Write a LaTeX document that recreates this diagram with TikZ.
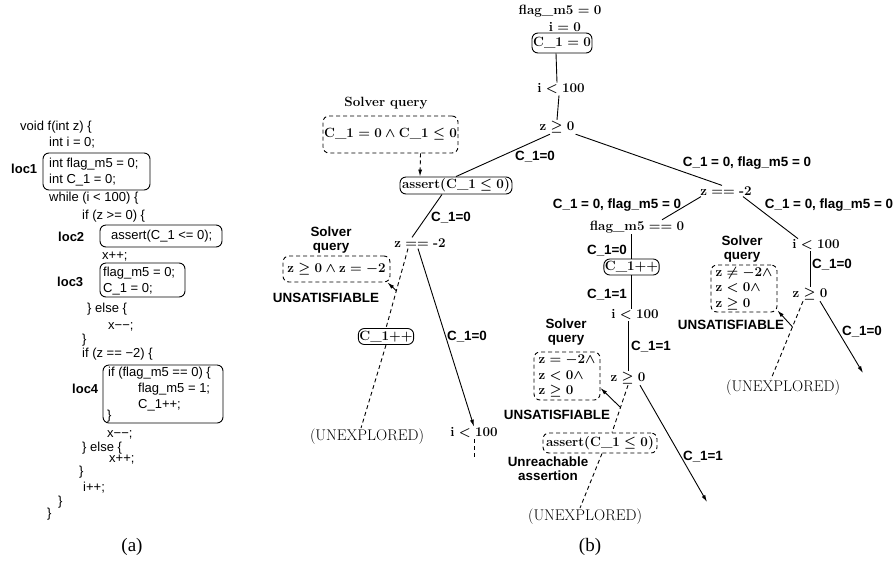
\RequirePackage{fix-cm}
\documentclass[tikz,border=0pt]{standalone}
\usepackage{fontspec}
\newfontfamily\hv{Liberation Sans}
\newfontfamily\tms{Liberation Serif}
\newcommand\tbx[1]{\textbf{#1}}
\usetikzlibrary{arrows.meta}

\begin{document}
\begin{tikzpicture}[x=1pt,y=-1pt,
  code/.style={anchor=west,inner sep=0pt,font=\fontsize{13}{15.5}\selectfont\hv},
  locl/.style={anchor=west,inner sep=0pt,font=\fontsize{13}{15.5}\selectfont\hv\bfseries},
  cbox/.style={draw,rounded corners=6pt,line width=0.9pt,inner sep=0pt},
  tm/.style={inner sep=1pt,font=\fontsize{13.4}{15.5}\selectfont\boldmath\bfseries},
  tbox/.style={tm,draw,rounded corners=6pt,line width=0.9pt,inner sep=1pt},
  qbox/.style={tm,draw,rounded corners=6pt,line width=0.9pt,dash pattern=on 4pt off 3pt,align=left,inner sep=1pt},
  lab/.style={inner sep=0pt,font=\fontsize{13.4}{14}\selectfont\hv\bfseries,align=center},
  serlab/.style={inner sep=0pt,font=\fontsize{13.4}{14}\selectfont\bfseries},
  unx/.style={inner sep=1pt,font=\fontsize{15.5}{17}\selectfont},
  captxt/.style={inner sep=0pt,font=\fontsize{19}{22}\selectfont\tms},
  edge/.style={line width=0.9pt},
  dedge/.style={line width=0.9pt,dash pattern=on 4pt off 3pt},
  arr/.style={line width=0.9pt,-{Latex[length=7pt,width=4pt]}},
]
\useasboundingbox (0,0) rectangle (893,563);

% ---------------- (a) source code ----------------
\node[code] (l01) at (20,127) {void f(int z) \{};
\node[code] (l02) at (49,143) {int i = 0;};
\node[cbox,minimum width=107pt,minimum height=37pt] (box1) at (96.5,171.5) {};
\node[locl] (loc1) at (11,169) {loc1};
\node[code] (l03) at (49,164) {int flag\_m5 = 0;};
\node[code] (l04) at (49,180) {int C\_1 = 0;};
\node[code] (l05) at (49,198) {while (i < 100) \{};
\node[code] (l06) at (82,216) {if (z >= 0) \{};
\node[cbox,minimum width=122pt,minimum height=22pt] (box2) at (161,236) {};
\node[locl] (loc2) at (58,237) {loc2};
\node[code] (l07) at (111,236) {assert(C\_1 <= 0);};
\node[code] (l08) at (102,257) {x++;};
\node[cbox,minimum width=85pt,minimum height=34pt] (box3) at (142.5,280) {};
\node[locl] (loc3) at (57,282) {loc3};
\node[code] (l09) at (103,273) {flag\_m5 = 0;};
\node[code] (l10) at (103,289) {C\_1 = 0;};
\node[code] (l11) at (87,309) {\} else \{};
\node[code] (l12) at (108,327) {x−−;};
\node[code] (l13) at (82,340) {\}};
\node[code] (l14) at (82,354) {if (z == −2) \{};
\node[cbox,minimum width=120pt,minimum height=58pt] (box4) at (163,394) {};
\node[locl] (loc4) at (72,389) {loc4};
\node[code] (l15) at (108,373) {if (flag\_m5 == 0) \{};
\node[code] (l16) at (138,389) {flag\_m5 = 1;};
\node[code] (l17) at (138,405) {C\_1++;};
\node[code] (l18) at (107,416) {\}};
\node[code] (l19) at (107,435) {x−−;};
\node[code] (l20) at (82,448) {\} else \{};
\node[code] (l21) at (109,460) {x++;};
\node[code] (l22) at (79,472) {\}};
\node[code] (l23) at (83,488) {i++;};
\node[code] (l24) at (58,502) {\}};
\node[code] (l25) at (47,514) {\}};
\node[captxt] (capa) at (132,547) {(a)};

% ---------------- (b) execution tree ----------------
\node[tm] (fm0) at (560,11) {$\tbx{flag\_m5} = \tbx{0}$};
\node[tm] (i0) at (565,27) {$\tbx{i} = \tbx{0}$};
\node[tbox,minimum width=60pt,minimum height=20pt] (c0) at (562,43) {$\tbx{C\_1} = \tbx{0}$};
\node[tm] (lt1) at (561,89) {$\tbx{i} < \tbx{100}$};
\node[tm] (zge) at (557,127) {$\tbx{z} \geq \tbx{0}$};

\node[serlab] (q1l) at (386,103) {Solver query};
\node[qbox,minimum width=135pt,minimum height=37pt] (q1) at (390.5,134.5) {$\tbx{C\_1} = \tbx{0} \wedge \tbx{C\_1} \leq \tbx{0}$};
\node[tbox,minimum width=112pt,minimum height=17pt] (as1) at (456,185.5) {$\tbx{assert(C\_1} \leq \tbx{0)}$};
\node[tm] (zeq1) at (420,243) {$\tbx{z} == \tbx{-2}$};

\node[lab] (q2l) at (331,240) {Solver\\query};
\node[qbox,minimum width=107pt,minimum height=26pt] (q2) at (336.5,269) {$\tbx{z} \geq \tbx{0} \wedge \tbx{z} = -\tbx{2}$};
\node[lab] (us1) at (326,298) {UNSATISFIABLE};
\node[tbox,minimum width=52pt,minimum height=16pt] (cp1) at (386,336.5) {$\tbx{C\_1}{+}{+}$};
\node[unx] (ux1) at (367,437) {(UNEXPLORED)};
\node[tm] (lt2) at (474,433) {$\tbx{i} < \tbx{100}$};
\coordinate (st2) at (474,459);

\node[tm] (zeq2) at (726,191) {$\tbx{z} == \tbx{-2}$};
\node[tm] (fmq) at (637,227) {$\tbx{flag\_m5} == \tbx{0}$};
\node[tbox,minimum width=53pt,minimum height=16pt] (cp2) at (631.5,267) {$\tbx{C\_1}{+}{+}$};
\node[tm] (lt3) at (635,315) {$\tbx{i} < \tbx{100}$};
\node[tm] (zge2) at (628,378) {$\tbx{z} \geq \tbx{0}$};
\node[lab] (q3l) at (566,332) {Solver\\query};
\node[qbox,minimum width=66pt,minimum height=48pt] (q3) at (567,376) {$\tbx{z} = -\tbx{2} \wedge$\\$\tbx{z} < \tbx{0} \wedge$\\$\tbx{z} \geq \tbx{0}$};
\node[lab] (us2) at (557,415) {UNSATISFIABLE};
\node[qbox,minimum width=114pt,minimum height=20pt] (as2) at (600,443) {$\tbx{assert(C\_1} \leq \tbx{0)}$};
\node[lab] (unr) at (548,469) {Unreachable\\assertion};
\node[unx] (ux2) at (585,517) {(UNEXPLORED)};
\coordinate (en2) at (707,502);

\node[tm] (lt4) at (816,245) {$\tbx{i} < \tbx{100}$};
\node[tm] (zge3) at (810,294) {$\tbx{z} \geq \tbx{0}$};
\node[lab] (q4l) at (742,249) {Solver\\query};
\node[qbox,minimum width=66pt,minimum height=47pt] (q4) at (744,288.5) {$\tbx{z} \neq -\tbx{2} \wedge$\\$\tbx{z} < \tbx{0} \wedge$\\$\tbx{z} \geq \tbx{0}$};
\node[lab] (us3) at (731,325) {UNSATISFIABLE};
\node[unx] (ux3) at (783,388) {(UNEXPLORED)};
\coordinate (en3) at (863,373);

\node[captxt] (capb) at (590,547) {(b)};

% edge labels
\node[lab] (e1) at (535,157) {C\_1=0};
\node[lab] (e2) at (747,163) {C\_1 = 0, flag\_m5 = 0};
\node[lab] (e3) at (451,218) {C\_1=0};
\node[lab] (e4) at (467,337) {C\_1=0};
\node[lab] (e5) at (617,205) {C\_1 = 0, flag\_m5 = 0};
\node[lab] (e6) at (829,205) {C\_1 = 0, flag\_m5 = 0};
\node[lab] (e7) at (607,251) {C\_1=0};
\node[lab] (e8) at (607,295) {C\_1=1};
\node[lab] (e9) at (651,347) {C\_1=1};
\node[lab] (e10) at (703,457) {C\_1=1};
\node[lab] (e11) at (832,265) {C\_1=0};
\node[lab] (e12) at (862,332) {C\_1=0};

% connectors
\draw[edge] ([xshift=-6pt]c0.south) -- ([xshift=-5pt]c0.south |- lt1.north);
\draw[edge] ([xshift=-2pt]lt1.south) -- (zge.north);
\draw[edge] ([xshift=-7pt]zge.south) -- (as1.north);
\draw[edge] (zge.south east) -- ([xshift=-4pt]zeq2.north);
\draw[dedge,-{Latex[length=7pt,width=4pt]}] ([xshift=30pt]q1.south) -- ([xshift=-36pt]as1.north);
\draw[edge] ([xshift=-14pt]as1.south) -- ([xshift=-8pt]zeq1.north);
\draw[dedge] ([xshift=-12pt]zeq1.south) -- (cp1.north) coordinate[pos=0.53] (m1);
\draw[dedge] (cp1.south) -- ([xshift=-6pt]ux1.north);
\draw[arr] (m1) -- ([xshift=-3pt]q2.south east);
\draw[arr] ([xshift=-2pt]zeq1.south) -- (lt2.north);
\draw[dedge] (lt2.south) -- (st2);

\draw[edge] ([xshift=-25pt]zeq2.south) -- ([xshift=25pt]fmq.north);
\draw[edge] ([xshift=17pt]zeq2.south) -- ([xshift=-18pt]lt4.north);
\draw[edge] (fmq.south -| cp2.north) -- (cp2.north);
\draw[edge] (cp2.south) -- (cp2.south |- lt3.north);
\draw[edge] (lt3.south -| zge2.north) -- (zge2.north);
\draw[dedge] (zge2.south) -- ([xshift=12pt]as2.north) coordinate[pos=0.47] (m2);
\draw[dedge] ([xshift=2pt]as2.south) -- ([xshift=-5pt]ux2.north);
\draw[arr] (m2) -- ([yshift=-12pt]q3.east);
\draw[arr] ([xshift=12pt]zge2.south) -- (en2);

\draw[edge] (lt4.south -| zge3.north) -- (zge3.north);
\draw[dedge] ([xshift=-7pt]zge3.south) -- ([xshift=-12pt]ux3.north) coordinate[pos=0.33] (m3);
\draw[arr] (m3) -- ([yshift=2pt]q4.south east);
\draw[arr] ([xshift=10pt]zge3.south) -- (en3);
\end{tikzpicture}
\end{document}
